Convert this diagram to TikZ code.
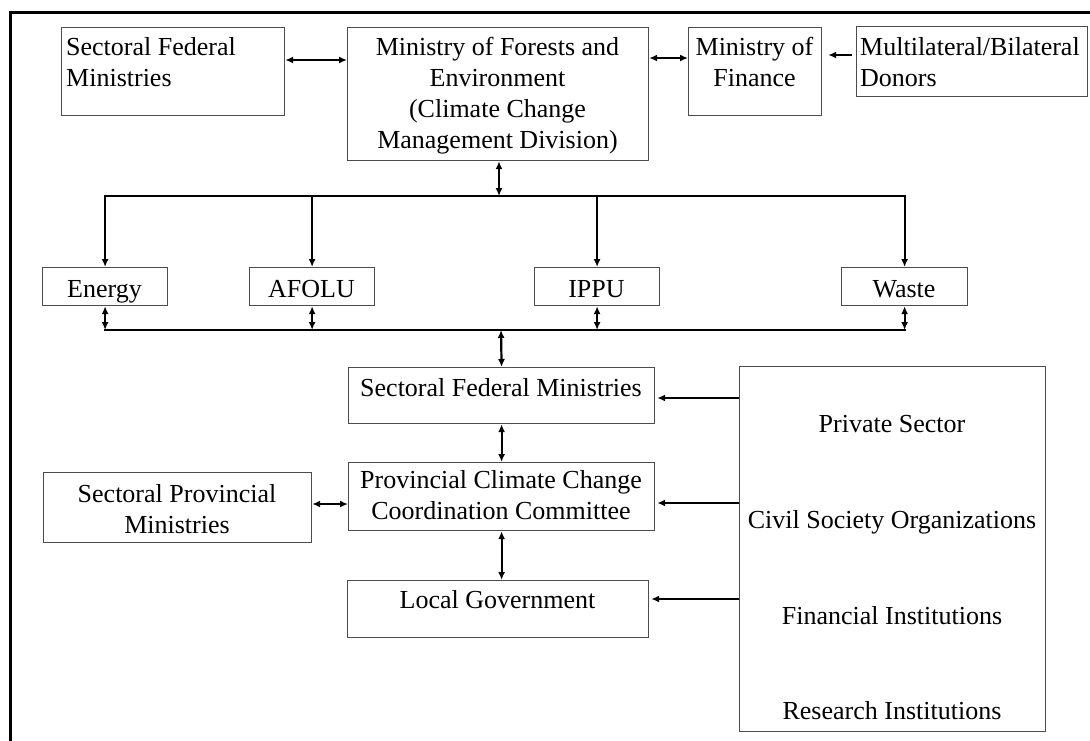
\documentclass[tikz,border=0pt]{standalone}
\usepackage{fontspec}
\setmainfont{Liberation Serif}
\usetikzlibrary{arrows.meta}
\begin{document}
\begin{tikzpicture}[x=1pt,y=-1pt,
  box/.style={draw=black!70, line width=1.2pt, anchor=north west, inner sep=0pt},
  txt/.style={inner sep=0pt, font=\fontsize{26}{31}\selectfont},
  link/.style={line width=2.2pt},
  tip/.tip={Latex[length=8pt,width=7pt]},
  dbl/.style={link, tip-tip},
  one/.style={link, -tip}]
\useasboundingbox (0,0) rectangle (1090,740);
\clip (0,0) rectangle (1090,740);
% outer frame (cut off at right and bottom)
\draw[line width=3pt] (10,760) -- (10,12) -- (1110,12);

% boxes
\node[box, minimum width=223pt, minimum height=88pt] (sfm1) at (61,27) {};
\node[box, minimum width=301pt, minimum height=133pt] (mofe) at (347,27) {};
\node[box, minimum width=133pt, minimum height=88pt] (mof) at (688,27) {};
\node[box, minimum width=231pt, minimum height=70pt] (donors) at (856,26) {};
\node[box, minimum width=125pt, minimum height=38pt] (energy) at (42,267) {};
\node[box, minimum width=125pt, minimum height=38pt] (afolu) at (249,267) {};
\node[box, minimum width=125pt, minimum height=38pt] (ippu) at (534,267) {};
\node[box, minimum width=126pt, minimum height=38pt] (waste) at (841,267) {};
\node[box, minimum width=306pt, minimum height=56pt] (sfm2) at (348,367) {};
\node[box, minimum width=306pt, minimum height=68pt] (pcccc) at (348,462) {};
\node[box, minimum width=268pt, minimum height=70pt] (spm) at (43,472) {};
\node[box, minimum width=301pt, minimum height=57pt] (lg) at (347,580) {};
\node[box, minimum width=306pt, minimum height=365pt] (actors) at (739,366) {};

% texts
\node[txt, anchor=north west, align=left] (tsfm1) at (66,35) {\rule{0pt}{20pt}Sectoral Federal\\Ministries};
\node[txt, anchor=north, align=center] (tmofe) at (497.5,35) {\rule{0pt}{20pt}Ministry of Forests and\\Environment\\(Climate Change\\Management Division)};
\node[txt, anchor=north, align=center] (tmof) at (754.5,35) {\rule{0pt}{20pt}Ministry of\\Finance};
\node[txt, anchor=north west, align=left] (tdon) at (860,35) {\rule{0pt}{20pt}Multilateral/Bilateral\\Donors};
\node[txt, anchor=base] (tenergy) at (104.5,297) {Energy};
\node[txt, anchor=base] (tafolu) at (311.5,297) {AFOLU};
\node[txt, anchor=base] (tippu) at (596.5,297) {IPPU};
\node[txt, anchor=base] (twaste) at (904,297) {Waste};
\node[txt, anchor=base] (tsfm2) at (501,396) {Sectoral Federal Ministries};
\node[txt, anchor=north, align=center] (tpcccc) at (501,468) {\rule{0pt}{20pt}Provincial Climate Change\\Coordination Committee};
\node[txt, anchor=north, align=center] (tspm) at (177,482) {\rule{0pt}{20pt}Sectoral Provincial\\Ministries};
\node[txt, anchor=base] (tlg) at (497.5,608) {Local Government};
\node[txt, anchor=base] (tps) at (892,432) {Private Sector};
\node[txt, anchor=base] (tcso) at (892,528) {Civil Society Organizations};
\node[txt, anchor=base] (tfi) at (892,624) {Financial Institutions};
\node[txt, anchor=base] (tri) at (892,719) {Research Institutions};

% top row connectors
\draw[dbl] (sfm1.east |- 0,60) -- (mofe.west |- 0,60);
\draw[dbl] (mofe.east |- 0,58) -- (mof.west |- 0,58);
\draw[one, shorten <=4pt, shorten >=6pt] (donors.west |- 0,55) -- (mof.east |- 0,55);

% upper bus
\coordinate (bt) at (499,196);
\draw[dbl] (bt |- mofe.south) -- (bt);
\draw[link, line cap=rect] (energy.north |- bt) -- (waste.north |- bt);
\draw[one] (energy.north |- bt) -- (energy.north);
\draw[one] (afolu.north |- bt) -- (afolu.north);
\draw[one] (ippu.north |- bt) -- (ippu.north);
\draw[one] (waste.north |- bt) -- (waste.north);

% lower bus
\coordinate (bb) at (501,330);
\draw[link, line cap=rect] (energy.south |- bb) -- (waste.south |- bb);
\draw[dbl] (energy.south) -- (energy.south |- bb);
\draw[dbl] (afolu.south) -- (afolu.south |- bb);
\draw[dbl] (ippu.south) -- (ippu.south |- bb);
\draw[dbl] (waste.south) -- (waste.south |- bb);
\draw[dbl] (bb) -- (sfm2.north);

% vertical chain
\draw[dbl] (sfm2.south) -- (pcccc.north);
\draw[dbl] (pcccc.south) -- (pcccc.south |- lg.north);
\draw[dbl] (spm.east |- 0,504) -- (pcccc.west |- 0,504);

% from non-state actors
\draw[one, shorten >=2pt] (actors.west |- 0,398) -- (sfm2.east |- 0,398);
\draw[one, shorten >=2pt] (actors.west |- 0,503) -- (pcccc.east |- 0,503);
\draw[one, shorten >=2pt] (actors.west |- 0,599) -- (lg.east |- 0,599);
\end{tikzpicture}
\end{document}
